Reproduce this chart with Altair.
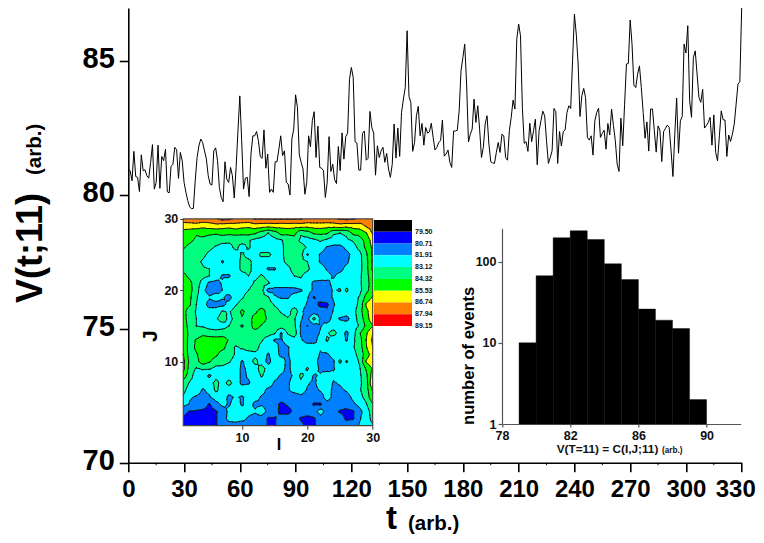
import altair as alt

FONT = "Liberation Sans"

# main series V(t;11), t = 0..330
V_000_059 = [80.96,80.90,80.52,81.62,80.68,80.65,80.12,81.49,80.90,80.93,80.71,80.62,81.20,81.87,80.21,80.46,81.85,80.24,81.43,81.27,
             81.70,80.11,80.07,81.06,81.14,81.77,81.68,80.61,81.58,81.27,80.46,80.09,79.78,79.55,79.48,79.49,80.52,81.39,81.83,82.08,
             81.95,81.64,81.33,80.71,80.40,80.36,81.64,81.75,81.27,80.27,79.90,79.74,81.23,80.58,80.46,81.02,80.71,79.88,81.02,82.39]
V_060_119 = [83.69,82.02,80.21,80.62,80.65,79.93,81.52,82.20,82.20,82.36,82.02,81.42,81.36,82.42,80.99,81.52,80.09,80.21,80.09,81.23,
             81.23,81.70,82.20,81.46,81.64,80.46,80.40,79.99,82.08,82.45,83.73,83.26,81.49,81.21,80.96,80.02,80.46,82.20,81.79,82.76,
             83.10,81.39,82.56,81.02,80.99,80.90,79.90,80.46,82.17,80.87,81.14,80.56,80.42,81.80,80.90,82.31,81.33,82.17,82.30,84.31]
V_120_179 = [84.75,84.38,81.98,81.93,80.92,80.92,82.29,82.38,81.29,81.36,83.11,82.51,82.30,80.73,81.83,81.39,81.64,81.77,81.21,81.54,
             80.96,80.65,81.14,82.64,81.37,82.49,81.43,83.07,83.57,84.00,86.12,83.67,83.45,81.62,81.95,82.95,83.30,82.20,82.66,81.85,
             82.51,82.30,82.35,82.67,82.14,81.67,81.77,81.95,82.02,82.79,81.44,81.52,81.67,81.21,81.02,82.38,82.38,82.41,83.13,84.63]
V_180_239 = [85.12,85.62,84.13,81.97,82.26,82.45,83.57,82.70,83.32,82.45,81.39,81.77,82.64,82.95,81.89,81.23,81.19,81.17,81.58,81.95,
             81.58,82.26,82.20,81.39,81.29,82.39,82.89,83.53,83.20,85.81,86.37,85.93,83.26,81.92,81.98,81.62,82.67,81.98,82.39,82.82,
             81.12,82.39,82.76,83.12,82.95,82.02,81.17,81.39,81.64,83.22,83.10,81.17,82.36,81.82,82.36,82.42,83.07,83.32,83.22,85.00]
V_240_299 = [86.74,85.99,84.88,82.92,83.69,83.97,83.63,82.14,82.04,82.20,81.48,82.76,83.07,83.23,82.14,82.29,82.41,81.70,82.66,82.23,
             83.20,82.58,82.02,81.14,80.87,82.86,81.83,83.38,84.88,84.90,86.52,85.62,84.09,84.00,84.50,84.81,84.00,83.07,82.11,82.72,
             81.63,83.20,83.20,82.39,81.59,82.57,82.41,81.24,82.36,82.48,82.60,82.51,81.64,80.68,82.26,83.61,81.55,82.76,82.92,85.62]
V_300_330 = [85.29,86.31,83.51,82.89,85.12,85.37,84.50,83.63,83.45,83.94,82.49,82.58,82.70,82.89,81.85,82.98,81.58,81.27,82.20,83.13,
             82.80,82.79,81.43,82.23,81.99,82.26,82.64,83.38,84.13,84.22,86.99]
V_SERIES = V_000_059 + V_060_119 + V_120_179 + V_180_239 + V_240_299 + V_300_330
X_TICKS = list(range(0, 331, 30))
X_MINOR = list(range(15, 330, 30))
Y_TICKS = [70, 75, 80, 85]

# histogram
HIST_LO = [79, 80, 81, 82, 83, 84, 85, 86, 87, 88, 89]
HIST_N = [10, 67, 197, 240, 187, 94, 60, 26, 19, 15, 2]

# contour legend
LEVELS = [79.50, 80.71, 81.91, 83.12, 84.32, 85.53, 86.74, 87.94, 89.15]
BAND_NAMES = ["b0", "b1", "b2", "b3", "b4", "b5", "b6", "b7", "b8"]
BAND_COLORS = ["#000000", "#0000ff", "#0080ff", "#00ffff", "#00ff80", "#00ff00", "#ffff00", "#ff8000", "#ff0000"]

# contour map, read as position on the colour bar (n = centre of band n), rows J = 30 .. 1, columns I = 1 .. 30
J30 = [7.2,7.2,7.3,7.2,7.2,7.4,7.8,7.7,7.3,7.3,7.3,7.55,7.55,7.6,7.6,7.6,7.6,7.6,7.55,7.3,7.3,7.3,7.3,7.3,7.6,7.7,7.6,7.3,7.2,7.2]
J29 = [5.8,5.9,6.0,5.7,5.9,6.1,5.9,5.8,6.0,5.8,5.7,6.0,5.9,5.8,5.9,5.8,5.9,5.8,5.9,5.8,5.9,5.9,5.8,5.9,6.0,5.8,5.9,6.0,6.6,7.0]
J28 = [5.2,5.0,4.6,5.0,4.7,4.6,4.8,4.7,4.8,4.7,4.8,4.6,4.0,3.5,4.0,4.8,4.7,4.8,3.6,4.0,4.6,4.7,4.6,3.6,3.5,3.7,4.7,4.8,5.4,6.6]
J27 = [5.0,4.7,4.3,4.0,3.9,3.9,3.8,3.7,3.7,3.8,3.6,3.2,3.1,3.0,3.2,3.4,3.9,4.0,3.3,3.1,3.3,3.6,3.3,3.1,3.1,3.3,3.6,4.1,4.8,6.0]
J26 = [4.6,4.2,4.0,3.9,3.7,3.4,3.1,3.2,3.7,3.2,3.6,3.1,3.0,3.0,3.1,3.3,3.9,4.0,3.9,3.4,3.1,3.0,2.4,2.2,2.2,2.7,3.1,3.8,4.7,5.7]
J25 = [4.1,3.9,3.9,3.7,3.3,3.0,3.0,3.0,3.1,3.6,3.2,3.1,3.7,3.7,3.2,3.3,3.9,4.0,3.8,2.4,3.0,2.4,2.0,2.0,2.0,2.2,2.8,3.2,4.3,5.7]
J24 = [4.0,3.9,3.7,3.4,3.0,3.0,2.4,3.0,3.1,3.7,3.7,3.2,3.0,3.0,3.1,3.3,3.7,3.9,3.8,3.5,3.0,2.4,2.0,2.0,2.0,2.3,3.0,3.2,4.1,5.7]
J23 = [4.3,4.1,3.9,3.6,3.5,3.0,3.0,2.9,3.1,3.7,3.7,3.2,3.0,2.4,2.4,3.1,3.3,3.8,3.9,3.7,3.0,3.0,2.4,2.1,2.2,2.8,3.0,3.2,4.1,5.7]
J22 = [4.7,4.3,3.9,3.8,3.5,3.0,2.4,2.4,3.0,3.2,3.5,3.3,3.6,3.2,2.9,3.2,3.2,3.5,3.6,3.1,3.0,3.0,2.8,2.4,2.8,3.0,3.1,3.3,4.1,5.2]
J21 = [5.0,4.7,4.0,3.1,2.3,2.2,2.6,3.0,3.1,3.1,3.2,3.6,3.9,3.6,3.0,3.0,3.0,3.1,3.2,3.0,2.3,2.2,2.3,2.7,2.9,3.0,3.1,3.3,4.1,5.0]
J20 = [5.0,4.8,3.9,2.7,2.1,2.1,2.5,3.0,3.2,3.2,3.5,3.9,3.8,2.2,2.2,2.2,2.2,2.2,2.4,3.0,2.3,2.1,2.1,2.6,2.4,3.7,2.7,3.2,4.2,5.0]
J19 = [4.9,4.7,3.6,3.0,2.6,3.0,2.6,2.2,3.0,3.4,3.9,4.0,3.9,3.6,2.6,2.4,2.4,2.9,3.0,2.6,1.4,2.1,2.2,2.6,3.0,2.8,3.1,3.6,4.8,5.6]
J18 = [5.0,4.6,3.5,3.0,2.1,2.1,2.2,2.8,3.4,3.9,4.0,4.0,3.9,4.0,3.4,3.1,3.0,3.1,3.0,2.4,2.0,1.2,1.3,2.4,3.0,3.0,3.1,3.7,5.6,6.3]
J17 = [4.8,4.0,3.4,3.0,3.0,3.0,3.6,3.4,3.9,4.7,4.0,4.3,5.0,4.0,3.9,3.4,3.1,4.0,3.0,1.6,2.0,2.1,1.7,2.6,3.0,3.0,3.1,4.1,5.2,6.2]
J16 = [4.8,4.1,3.5,3.1,3.1,3.4,3.9,3.3,3.7,4.4,4.0,5.0,5.0,4.3,4.0,3.9,3.6,3.6,2.6,2.2,3.8,2.4,1.8,3.0,2.4,2.2,3.0,3.9,5.0,6.2]
J15 = [5.0,4.1,3.5,3.4,3.1,3.0,3.1,3.5,3.8,3.4,4.0,5.0,4.4,4.0,4.0,4.0,4.0,3.7,2.4,1.5,2.1,2.4,3.0,3.1,3.0,3.1,3.1,3.6,4.7,5.4]
J14 = [5.4,4.1,3.9,4.2,4.0,3.9,4.0,4.0,4.0,4.0,4.0,4.0,3.9,3.9,3.6,2.4,3.6,4.0,2.4,2.0,2.0,2.6,3.4,3.8,3.1,2.3,3.1,4.4,5.3,6.5]
J13 = [5.4,4.0,4.6,5.0,5.0,5.0,5.0,4.4,4.0,3.9,4.4,4.0,3.6,3.0,2.4,2.4,3.0,3.1,2.6,2.1,2.1,3.0,3.6,3.0,3.0,2.4,3.3,4.1,5.5,6.7]
J12 = [5.3,4.0,4.7,5.0,5.1,5.0,4.8,4.0,3.4,3.6,3.9,4.0,3.1,3.0,3.0,2.1,2.4,3.0,3.1,3.0,3.0,2.6,3.0,3.0,3.1,3.1,3.4,4.0,5.4,6.5]
J11 = [5.5,4.0,4.4,5.0,5.0,4.7,4.0,4.0,3.4,3.1,3.1,3.2,3.1,2.4,3.0,2.2,2.4,3.1,2.8,3.0,3.0,2.4,2.4,2.8,3.0,3.1,3.2,3.8,5.0,6.0]
J10 = [5.8,4.2,4.2,5.0,4.6,4.0,3.9,3.6,3.1,2.4,3.0,3.8,3.0,2.2,3.0,3.0,2.2,3.0,3.0,3.0,3.0,2.1,2.1,2.4,3.7,2.4,3.0,3.6,5.6,6.2]
J09 = [5.8,4.0,3.4,3.6,3.6,3.2,3.2,3.0,3.0,2.3,2.7,3.0,4.0,3.0,3.0,2.8,2.2,3.0,3.0,3.6,3.0,2.3,2.0,2.4,3.0,3.0,3.0,3.4,4.6,5.6]
J08 = [5.0,3.9,3.0,3.0,2.3,3.2,3.0,3.0,3.0,2.3,2.6,3.0,3.6,3.0,2.7,2.4,2.3,2.6,3.7,3.2,2.4,2.6,3.3,2.7,3.0,3.0,3.0,3.3,4.2,6.0]
J07 = [4.1,3.4,3.0,3.0,3.1,3.8,3.1,3.8,3.0,2.3,2.4,3.0,3.0,2.9,2.4,2.3,2.4,2.8,3.3,2.6,2.3,3.0,3.1,2.4,2.6,3.0,3.0,3.3,4.0,6.4]
J06 = [3.8,3.0,2.9,2.4,2.7,3.7,3.0,2.9,3.0,3.0,3.0,3.0,2.8,2.3,2.3,2.2,2.4,2.8,2.9,2.4,2.2,2.6,2.9,2.3,2.3,2.6,3.0,3.4,4.0,5.6]
J05 = [3.4,2.6,2.4,2.3,2.4,2.9,3.0,2.3,2.6,2.4,2.8,2.8,2.4,2.2,2.0,2.0,2.0,2.0,2.3,2.1,2.0,2.0,3.0,2.2,2.0,2.1,2.7,3.2,3.8,5.3]
J04 = [2.8,2.4,2.1,2.0,1.4,2.2,2.7,2.4,2.9,2.4,2.9,2.3,2.4,2.2,1.8,1.3,1.6,1.8,2.0,2.0,1.4,1.4,2.0,2.0,2.0,2.0,2.3,2.8,3.4,4.4]
J03 = [1.7,1.45,1.4,1.3,1.2,1.4,2.0,2.7,3.0,2.9,2.7,2.6,3.0,2.2,1.9,1.2,1.2,1.7,2.0,2.0,2.0,3.0,2.0,2.0,1.4,1.2,1.4,2.2,3.0,4.0]
J02 = [1.4,1.2,1.2,1.2,1.2,1.4,2.2,2.7,2.8,2.7,2.4,2.2,2.1,1.4,1.4,2.0,2.0,2.0,1.4,1.2,1.4,2.0,1.6,1.6,2.0,1.3,1.4,2.4,3.0,3.8]
J01 = [1.4,1.3,1.3,1.3,1.3,1.4,2.0,2.2,2.2,2.1,2.2,2.2,2.0,1.4,1.4,2.1,1.8,2.1,1.7,1.3,1.4,1.7,2.2,2.0,2.0,2.0,2.3,2.6,3.0,3.4]
ROWS = [J01,J02,J03,J04,J05,J06,J07,J08,J09,J10,J11,J12,J13,J14,J15,J16,J17,J18,J19,J20,J21,J22,J23,J24,J25,J26,J27,J28,J29,J30]
assert all(len(r) == 30 for r in ROWS), [len(r) for r in ROWS]

# layout: picture position of the main plot's corner
OX, OY = 128.3, 8.0
W, H = 613.4, 454.7
CELL_X, CELL_Y = 6.53, 7.13
MAP_X0, MAP_Y0 = 183.3 - OX, 425.7 - OY
ASPECT = CELL_Y / CELL_X

# C(I,J) values
STEP = (LEVELS[-1] - LEVELS[0]) / 8
C = [[LEVELS[0] + (b - 0.5) * STEP + 1e-4 for b in row] for row in ROWS]


def clip(poly, level, keep_above):
    out = []
    n = len(poly)
    for k in range(n):
        a, b = poly[k], poly[(k + 1) % n]
        ina = a[2] >= level if keep_above else a[2] < level
        inb = b[2] >= level if keep_above else b[2] < level
        if ina:
            out.append(a)
        if ina != inb:
            r = (level - a[2]) / (b[2] - a[2])
            out.append((a[0] + r * (b[0] - a[0]), a[1] + r * (b[1] - a[1]), level))
    return out


triangles = []
for j in range(29):
    for i in range(29):
        p = [(i + 1, j + 1, C[j][i]), (i + 2, j + 1, C[j][i + 1]),
             (i + 2, j + 2, C[j + 1][i + 1]), (i + 1, j + 2, C[j + 1][i])]
        m = (i + 1.5, j + 1.5, sum(q[2] for q in p) / 4)
        for k in range(4):
            triangles.append((p[k], p[(k + 1) % 4], m))


def geo(q):
    return [round(q[0], 3), round(q[1] * ASPECT, 3)]


band_features = []
edges = [-1e9] + LEVELS
for idx, name in enumerate(BAND_NAMES):
    lo, hi = edges[idx], edges[idx + 1]
    polys = []
    for t in triangles:
        pg = clip(list(t), lo, True)
        if len(pg) >= 3:
            pg = clip(pg, hi, False)
        if len(pg) >= 3:
            ring = [geo(q) for q in pg]
            polys.append([ring + [ring[0]]])
    if polys:
        band_features.append({"type": "Feature", "properties": {"band": name},
                              "geometry": {"type": "MultiPolygon", "coordinates": polys}})

segments = []
for level in LEVELS:
    for t in triangles:
        pts = []
        for k in range(3):
            a, b = t[k], t[(k + 1) % 3]
            if (a[2] >= level) != (b[2] >= level):
                r = (level - a[2]) / (b[2] - a[2])
                pts.append((a[0] + r * (b[0] - a[0]), a[1] + r * (b[1] - a[1])))
        if len(pts) == 2:
            segments.append([geo(pts[0]), geo(pts[1])])
line_features = [{"type": "Feature", "properties": {},
                  "geometry": {"type": "MultiLineString", "coordinates": segments}}]

PROJ = dict(type="identity", reflectY=True, scale=CELL_X, translate=[MAP_X0 - CELL_X, MAP_Y0 + CELL_Y])
band_scale = alt.Scale(domain=BAND_NAMES, range=BAND_COLORS)

# main line
main = alt.Chart(alt.Data(values=[{"t": i, "v": v} for i, v in enumerate(V_SERIES)])).mark_line(
    color="black", strokeWidth=1, clip=False).encode(
    x=alt.X("t:Q", scale=alt.Scale(domain=[0, 330], nice=False, zero=False),
            axis=alt.Axis(orient="bottom", values=X_TICKS, title=None, grid=False, tickSize=9, tickWidth=1.6,
                          domainWidth=1.6, domainColor="black", tickColor="black", labelColor="black", labelFont=FONT,
                          labelFontWeight="bold", labelFontSize=24, labelPadding=6, labelAngle=0, labelFlush=False,
                          labelOffset={"condition": {"test": "datum.value == 330", "value": -6.5}, "value": 0},
                          labelOverlap=False)),
    y=alt.Y("v:Q", scale=alt.Scale(domain=[70, 86.97], nice=False, zero=False),
            axis=alt.Axis(orient="left", values=Y_TICKS, title=None, grid=False, tickSize=9, tickWidth=1.6,
                          domainWidth=1.6, domainColor="black", tickColor="black", labelColor="black", labelFont=FONT,
                          labelFontWeight="bold", labelFontSize=29, labelPadding=5, labelOffset=-2, labelOverlap=False)),
)

minor = alt.Chart(alt.Data(values=[{"t": t} for t in X_MINOR])).mark_rule(color="black", strokeWidth=1).encode(
    x=alt.X("t:Q", scale=alt.Scale(domain=[0, 330], nice=False, zero=False, range=[0, W]), axis=None),
    y=alt.value(H), y2=alt.value(H + 2.5),
)

# contour inset
fills = alt.Chart(alt.Data(values=band_features)).mark_geoshape(strokeWidth=0, clip=False).encode(
    color=alt.Color("properties.band:N", scale=band_scale, legend=None)).project(**PROJ)
lines = alt.Chart(alt.Data(values=line_features)).mark_geoshape(
    filled=False, stroke="#101010", strokeWidth=0.9, strokeCap="round", clip=False).project(**PROJ)

map_axis = dict(title=None, grid=False, values=[10, 20, 30], tickSize=3.5, tickColor="#333333", domain=False, labelColor="#111111",
                labelFont=FONT, labelFontWeight="bold", labelFontSize=12.5, labelPadding=2, labelOverlap=False, labelFlush=False)
frame = alt.Chart(alt.Data(values=[{"i0": 1, "i1": 30, "j0": 1, "j1": 30}])).mark_rect(
    filled=False, stroke="#444444", strokeWidth=1.2).encode(
    x=alt.X("i0:Q", scale=alt.Scale(domain=[1, 30], nice=False, zero=False,
                                    range=[MAP_X0, MAP_X0 + 29 * CELL_X]),
            axis=alt.Axis(orient="bottom", offset=-(H - MAP_Y0), **map_axis)),
    x2="i1:Q",
    y=alt.Y("j0:Q", scale=alt.Scale(domain=[1, 30], nice=False, zero=False,
                                    range=[MAP_Y0, MAP_Y0 - 29 * CELL_Y]),
            axis=alt.Axis(orient="left", offset=-MAP_X0, **map_axis)),
    y2="j1:Q",
)

# colour bar
bar_rows = [{"band": n, "y0": i, "y1": i + 1} for i, n in enumerate(BAND_NAMES)]
bar_y = alt.Scale(domain=[0, 9], nice=False, zero=False, range=[220 - OY, 326 - OY])
colorbar = alt.Chart(alt.Data(values=bar_rows)).mark_rect(strokeWidth=0).encode(
    x=alt.value(374 - OX), x2=alt.value(412 - OX),
    y=alt.Y("y0:Q", scale=bar_y, axis=None), y2="y1:Q",
    color=alt.Color("band:N", scale=band_scale, legend=None),
)
bar_labels = alt.Chart(alt.Data(values=[{"y": i + 1, "s": f"{lv:.2f}"} for i, lv in enumerate(LEVELS)])).mark_text(
    align="left", baseline="middle", font=FONT, fontWeight="bold", fontSize=7, color="#111111").encode(
    x=alt.value(415 - OX), y=alt.Y("y:Q", scale=bar_y, axis=None), text="s:N",
)

# histogram inset
hist_rows = [{"lo": a, "hi": a + 1, "n": n, "base": 1} for a, n in zip(HIST_LO, HIST_N)]
HX0, HX1 = 502 - OX, 740.7 - OX
HY0, HY1 = 424 - OY, 228.3 - OY
hist_axis = dict(title=None, grid=False, domainColor="#555555", tickColor="#555555", domainWidth=1.2, tickWidth=1.2,
                 labelColor="#111111", labelFont=FONT, labelFontWeight="bold", labelFontSize=12.5,
                 labelOverlap=False, labelFlush=False)
hist = alt.Chart(alt.Data(values=hist_rows)).mark_rect(color="black", stroke="black", strokeWidth=0.4).encode(
    x=alt.X("lo:Q", scale=alt.Scale(domain=[78, 92], nice=False, zero=False, range=[HX0, HX1]),
            axis=alt.Axis(orient="bottom", offset=-(H - HY0), values=[78, 82, 86, 90], tickSize=3, labelPadding=2, **hist_axis)),
    x2="hi:Q",
    y=alt.Y("n:Q", scale=alt.Scale(type="log", domain=[1, 257], nice=False, range=[HY0, HY1]),
            axis=alt.Axis(orient="left", offset=-HX0, values=[1, 10, 100], tickSize=4, labelPadding=2, **hist_axis)),
    y2="base:Q",
)


def text(s, px, py, size, angle=0, align="left", color="black"):
    kw = {"angle": angle} if angle else {}
    return alt.Chart(alt.Data(values=[{"s": s}])).mark_text(
        align=align, baseline="alphabetic", font=FONT, fontWeight="bold", fontSize=size, color=color, **kw).encode(
        x=alt.value(px - OX), y=alt.value(py - OY), text="s:N")


labels = [
    text("V(t;11)", 41.5, 303, 36, angle=270),
    text("(arb.)", 41, 175, 20.5, angle=270),
    text("t", 386, 529, 33),
    text("(arb.)", 408, 530, 20.5),
    text("I", 279, 450, 16, align="center"),
    text("J", 157, 342, 21, angle=270),
    text("number of events", 474, 425, 16.6, angle=270),
    text("V(T=11) = C(I,J;11)", 556.7, 453, 11.8, color="#111111"),
    text("(arb.)", 662, 453, 8.2, color="#111111"),
]

chart = alt.layer(main, minor, fills, lines, frame, colorbar, bar_labels, hist, *labels).resolve_scale(
    x="independent", y="independent").resolve_axis(x="independent", y="independent").properties(
    width=W, height=H,
    autosize=alt.AutoSizeParams(type="none"),
    padding={"left": OX - 8, "top": OY - 8, "right": 748 - (OX - 8) - W, "bottom": 527 - H},
    background="white",
).configure_view(stroke=None)

chart.save("out.html", embed_options={"renderer": "svg", "actions": False})
